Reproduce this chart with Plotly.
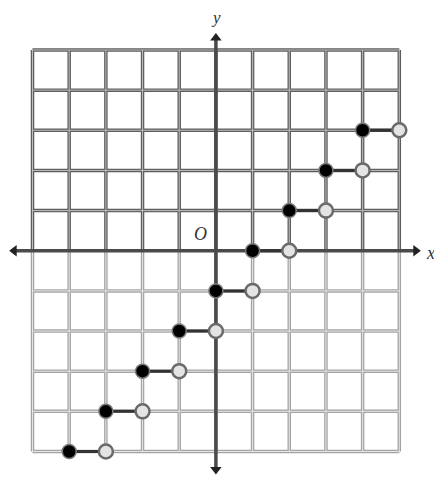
import plotly.graph_objects as go

# step function y = floor(x) - 1, drawn for x in [-4, 5)
step_left_x = [-4, -3, -2, -1, 0, 1, 2, 3, 4]
step_right_x = [-3, -2, -1, 0, 1, 2, 3, 4, 5]
step_y = [-5, -4, -3, -2, -1, 0, 1, 2, 3]

grid_min, grid_max = -5, 5
grid_ticks = list(range(grid_min, grid_max + 1))

# page body adds 8px, so the figure is 8px smaller; grid sits at (32.5, 50)-(399.3, 451.7) on screen
X_RANGE = [-5.668, 6.164]
Y_RANGE = [-5.760, 6.046]


def grid_lines(y_lo, y_hi, rows):
    xs, ys = [], []
    for v in grid_ticks:
        xs += [v, v, None]
        ys += [y_lo, y_hi, None]
    for r in rows:
        xs += [grid_min, grid_max, None]
        ys += [r, r, None]
    return xs, ys


fig = go.Figure()

upper = grid_lines(0, grid_max, [t for t in grid_ticks if t > 0])
lower = grid_lines(grid_min, 0, [t for t in grid_ticks if t < 0])

for (xs, ys), dark, light in [(lower, "#a4a4a4", "#e6e6e6"), (upper, "#5e5e5e", "#bdbdbd")]:
    fig.add_trace(go.Scatter(x=xs, y=ys, mode="lines", line=dict(color=dark, width=3.5),
                             hoverinfo="skip", showlegend=False))
    fig.add_trace(go.Scatter(x=xs, y=ys, mode="lines", line=dict(color=light, width=1),
                             hoverinfo="skip", showlegend=False))

# axes
fig.add_trace(go.Scatter(x=[-5.5, 5.45], y=[0, 0], mode="lines",
                         line=dict(color="#4a4a4a", width=3.5), hoverinfo="skip", showlegend=False))
fig.add_trace(go.Scatter(x=[0, 0], y=[-5.45, 5.3], mode="lines",
                         line=dict(color="#4a4a4a", width=3.5), hoverinfo="skip", showlegend=False))
fig.add_trace(go.Scatter(x=[-5.5, 5.45], y=[0, 0], mode="markers",
                         marker=dict(symbol=["triangle-left", "triangle-right"], size=10, color="#222"),
                         hoverinfo="skip", showlegend=False))
fig.add_trace(go.Scatter(x=[0, 0], y=[5.3, -5.45], mode="markers",
                         marker=dict(symbol=["triangle-up", "triangle-down"], size=10, color="#222"),
                         hoverinfo="skip", showlegend=False))

# step segments
seg_x, seg_y = [], []
for a, b, v in zip(step_left_x, step_right_x, step_y):
    seg_x += [a, b, None]
    seg_y += [v, v, None]
fig.add_trace(go.Scatter(x=seg_x, y=seg_y, mode="lines",
                         line=dict(color="#333", width=3), hoverinfo="skip", showlegend=False))

fig.add_trace(go.Scatter(x=step_right_x, y=step_y, mode="markers",
                         marker=dict(size=14, color="#e4e4e4", line=dict(color="#6a6a6a", width=2.5)),
                         showlegend=False))
fig.add_trace(go.Scatter(x=step_left_x, y=step_y, mode="markers",
                         marker=dict(size=14, color="#000", line=dict(color="#7a7a7a", width=1.5)),
                         showlegend=False))

label_font = dict(family="Liberation Serif", size=18, color="#333")
fig.add_annotation(x=5.85, y=-0.05, text="<i>x</i>", showarrow=False, font=label_font)
fig.add_annotation(x=0, y=5.8, text="<i>y</i>", showarrow=False, font=dict(label_font, size=17))
fig.add_annotation(x=-0.43, y=0.42, text="<i>O</i>", showarrow=False, font=label_font)

fig.update_layout(
    width=434, height=474,
    margin=dict(l=0, r=0, t=0, b=0),
    paper_bgcolor="white", plot_bgcolor="white",
    xaxis=dict(range=X_RANGE, visible=False, fixedrange=True),
    yaxis=dict(range=Y_RANGE, visible=False, fixedrange=True),
)

fig.write_html("out.html")
